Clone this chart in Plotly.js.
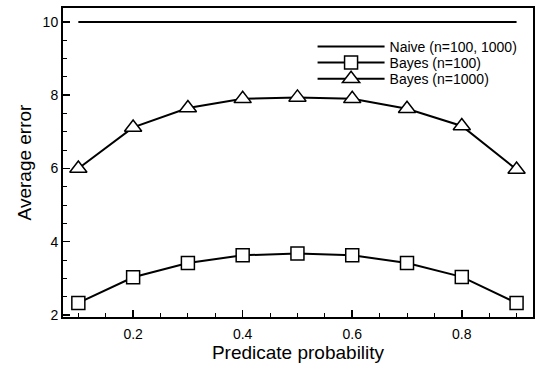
<!DOCTYPE html>
<html>
<head>
<meta charset="utf-8">
<script src="https://cdn.plot.ly/plotly-3.0.1.min.js"></script>
<style>
  html, body { margin: 0; padding: 0; background: #fff; }
  #chart { width: 540px; height: 381px; }
</style>
</head>
<body>
<div id="chart"></div>
<script>
// values
const prob = [0.1, 0.2, 0.3, 0.4, 0.5, 0.6, 0.7, 0.8, 0.9];
const naive = [10, 10, 10, 10, 10, 10, 10, 10, 10];
const bayes100 = [2.33, 3.03, 3.42, 3.63, 3.68, 3.63, 3.42, 3.04, 2.33];
const bayes1000 = [6.0, 7.12, 7.65, 7.9, 7.94, 7.9, 7.63, 7.16, 5.97];

const ink = '#000';

const traces = [
  {
    x: prob, y: naive, type: 'scatter', mode: 'lines',
    name: 'Naive (n=100, 1000)', legend: 'legend',
    line: { color: ink, width: 2 }
  },
  {
    x: prob, y: bayes100, type: 'scatter', mode: 'lines+markers',
    name: 'Bayes (n=100)', legend: 'legend2',
    line: { color: ink, width: 2 },
    marker: { symbol: 'square', size: 13, color: '#fff', line: { color: ink, width: 1.5 } }
  },
  {
    x: prob, y: bayes1000, type: 'scatter', mode: 'lines+markers',
    name: 'Bayes (n=1000)', legend: 'legend3',
    line: { color: ink, width: 2 },
    marker: { symbol: 'triangle-up', size: 15, color: '#fff', line: { color: ink, width: 1.5 } }
  }
];

// one legend per entry so the rows can sit as tight as in the original
function legendAt(y) {
  return {
    x: 0.531, y: y, xanchor: 'left', yanchor: 'middle',
    bgcolor: 'rgba(0,0,0,0)', font: { size: 14 }, itemwidth: 67
  };
}

const layout = {
  width: 540, height: 381,
  margin: { l: 63, r: 7, t: 8, b: 64 },
  paper_bgcolor: '#fff', plot_bgcolor: '#fff',
  font: { family: 'Liberation Sans, Arial, sans-serif', color: ink, size: 14 },
  showlegend: true,
  legend: legendAt(0.874),
  legend2: legendAt(0.822),
  legend3: legendAt(0.770),
  xaxis: {
    range: [0.072, 0.93],
    tickvals: [0.2, 0.4, 0.6, 0.8],
    ticktext: ['0.2', '0.4', '0.6', '0.8'],
    ticks: 'inside', ticklen: 7, tickwidth: 1.5, tickcolor: ink,
    ticklabelstandoff: 3,
    minor: { ticks: 'inside', ticklen: 4, tickwidth: 1, dtick: 0.05, tick0: 0, tickcolor: ink },
    showline: true, linewidth: 2, linecolor: ink, mirror: true,
    showgrid: false, zeroline: false,
    title: { text: 'Predicate probability', font: { size: 19 }, standoff: 4 }
  },
  yaxis: {
    range: [1.945, 10.38],
    tickvals: [2, 4, 6, 8, 10],
    ticks: 'inside', ticklen: 7, tickwidth: 1.5, tickcolor: ink,
    minor: { ticks: 'inside', ticklen: 4, tickwidth: 1, dtick: 0.5, tick0: 0, tickcolor: ink },
    showline: true, linewidth: 2, linecolor: ink, mirror: true,
    showgrid: false, zeroline: false,
    title: { text: 'Average error', font: { size: 19 }, standoff: 6 }
  }
};

Plotly.newPlot('chart', traces, layout, { displayModeBar: false, staticPlot: true });
</script>
</body>
</html>
